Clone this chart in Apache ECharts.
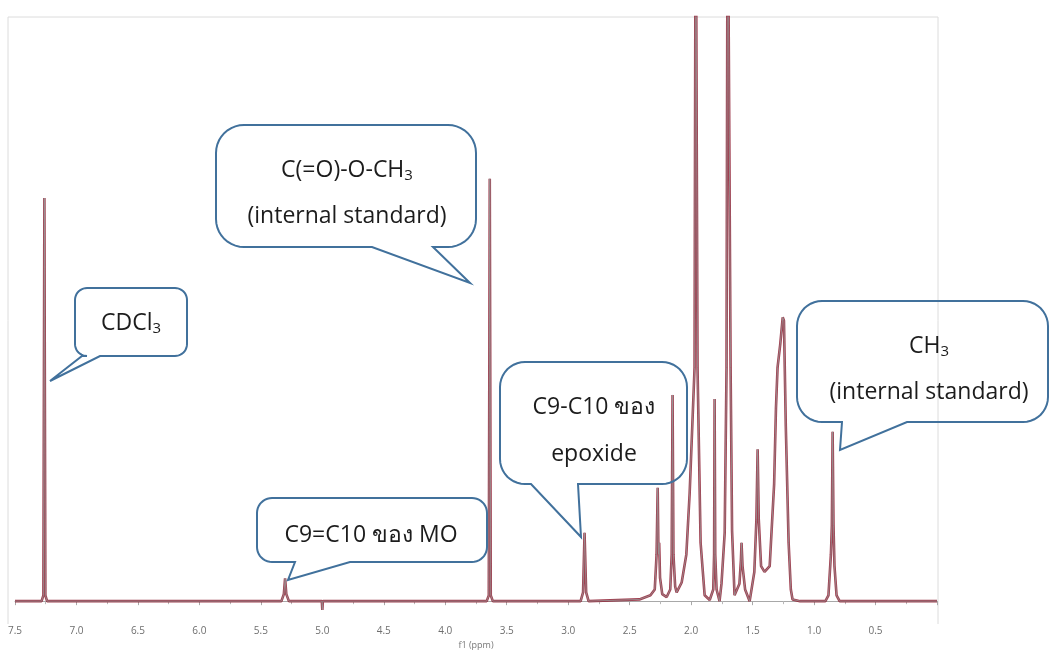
<!DOCTYPE html>
<html>
<head>
<meta charset="utf-8">
<script src="https://cdn.jsdelivr.net/npm/echarts@6/dist/echarts.min.js"></script>
<style>
  html, body { margin: 0; padding: 0; background: #ffffff; }
  #chart { width: 1051px; height: 655px; }
</style>
</head>
<body>
<div id="chart"></div>
<script>
// 1H NMR spectrum (CDCl3), chemical shift in ppm and relative intensity
const shiftPpm = [
  7.500, 7.284, 7.269, 7.261, 7.253, 7.239,
  5.333, 5.313, 5.303, 5.293, 5.272,
  5.004, 5.000, 4.996,
  3.663, 3.646, 3.638, 3.630, 3.613,
  2.899, 2.879, 2.867, 2.854, 2.834,
  2.421, 2.331, 2.296, 2.281, 2.272, 2.266, 2.260, 2.253, 2.235, 2.199,
  2.170, 2.158, 2.151, 2.144, 2.130, 2.118,
  2.077, 2.039, 2.012, 1.972, 1.963, 1.955, 1.948, 1.923, 1.890, 1.849,
  1.820, 1.813, 1.809, 1.804, 1.793, 1.769,
  1.753, 1.727, 1.712, 1.703, 1.689, 1.679, 1.667, 1.647,
  1.607, 1.595, 1.590, 1.582, 1.561, 1.524,
  1.486, 1.469, 1.459, 1.450, 1.431, 1.403,
  1.361, 1.325, 1.310, 1.297, 1.275, 1.255, 1.245, 1.230, 1.207, 1.189, 1.175, 1.114,
  0.908, 0.883, 0.863, 0.855, 0.849, 0.842, 0.834, 0.817, 0.792, 0.000
];
const intensity = [
  0, 0, 1.0, 69.0, 1.0, 0,
  0, 1.2, 3.9, 1.2, 0,
  0, -1.5, 0,
  0, 1.0, 72.3, 1.0, 0,
  0, 1.5, 11.7, 1.5, 0,
  0.3, 1.0, 2.0, 8.0, 19.4, 8.0, 10.0, 4.0, 1.2, 0.7,
  2.0, 8.0, 35.3, 8.0, 2.5, 1.5,
  3.2, 8.0, 18.5, 40, 130, 130, 40, 10, 1.0, 0.2,
  2.0, 8.0, 34.6, 8.0, 2.0, 0,
  3.0, 11.7, 40, 130, 130, 40, 12, 1.0,
  3.0, 7.0, 10.0, 6.0, 2.0, 0,
  5.0, 14, 26, 14, 6.0, 5.0,
  6.0, 20, 33, 40, 44, 48.6, 48.0, 30, 10, 2.0, 0.3, 0,
  0, 1.0, 8.0, 13, 29, 13, 6.0, 1.0, 0, 0
];

// Axis tick settings
const axisTicks = { min: 0, max: 7.5, step: 0.5 };
const axisTitle = 'f1 (ppm)';

// Peak annotations (speech-bubble callouts)
const calloutLines = [
  [['CDCl', '3']],
  [['C(=O)-O-CH', '3'], ['(internal standard)', '']],
  [['C9=C10 ของ MO', '']],
  [['C9-C10 ของ', ''], ['epoxide', '']],
  [['CH', '3'], ['(internal standard)', '']]
];

// Bubble geometry: box x, y, w, h, corner radius, tail base left/right, tail tip
const calloutShapes = [
  { x: 75,  y: 288, w: 112, h: 68,  r: 12, tl: 82,  tr: 100, tip: [50, 381],  text: [[131, 323]] },
  { x: 216, y: 125, w: 260, h: 122, r: 28, tl: 372, tr: 433, tip: [470, 283], text: [[347, 170], [347, 216]] },
  { x: 257, y: 498, w: 230, h: 64,  r: 15, tl: 295, tr: 350, tip: [288, 580], text: [[371, 535]] },
  { x: 500, y: 362, w: 187, h: 122, r: 25, tl: 531, tr: 578, tip: [581, 537], text: [[594, 407], [594, 454]] },
  { x: 797, y: 301, w: 251, h: 121, r: 25, tl: 842, tr: 907, tip: [840, 450], text: [[929, 346], [929, 392]] }
];

const FONT = "'Open Sans', 'Noto Sans', 'DejaVu Sans', sans-serif";

// outline of a rounded box with a pointed tail on its bottom edge
function bubbleOutline(s) {
  const { x, y, w, h, r, tl, tr, tip } = s;
  const pts = [];
  const corner = (cx, cy, a0) => {
    for (let k = 0; k <= 10; k++) {
      const a = a0 + (Math.PI / 2) * (k / 10);
      pts.push([cx + r * Math.cos(a), cy + r * Math.sin(a)]);
    }
  };
  corner(x + r, y + r, Math.PI);              // top-left
  corner(x + w - r, y + r, -Math.PI / 2);     // top-right
  corner(x + w - r, y + h - r, 0);            // bottom-right
  pts.push([tr, y + h], tip, [tl, y + h]);
  corner(x + r, y + h - r, Math.PI / 2);      // bottom-left
  return pts;
}

const graphics = [];
// light frame around the plotting region
graphics.push({
  type: 'polyline', silent: true, z: 0,
  shape: { points: [[8, 624], [8, 17], [938, 17], [938, 624]] },
  style: { stroke: '#dcdcdc', lineWidth: 1, fill: null }
});
calloutShapes.forEach((s, i) => {
  graphics.push({
    type: 'polygon', z: 10,
    shape: { points: bubbleOutline(s) },
    style: { fill: null, stroke: '#41719c', lineWidth: 2 }
  });
  calloutLines[i].forEach((ln, j) => {
    const txt = ln[1] ? '{m|' + ln[0] + '}{s|' + ln[1] + '}' : '{m|' + ln[0] + '}';
    graphics.push({
      type: 'text', z: 11,
      x: s.text[j][0], y: s.text[j][1],
      style: {
        text: txt, align: 'center', verticalAlign: 'middle',
        rich: {
          m: { fontFamily: FONT, fontSize: 23, fill: '#1c1c1c', lineHeight: 28 },
          s: { fontFamily: FONT, fontSize: 15, fill: '#1c1c1c', lineHeight: 28, padding: [12, 0, 0, 0] }
        }
      }
    });
  });
});

const points = shiftPpm.map((p, i) => [p, intensity[i]]);

const chart = echarts.init(document.getElementById('chart'), null, { renderer: 'canvas' });
chart.setOption({
  animation: false,
  backgroundColor: '#ffffff',
  grid: { left: 15, right: 114, top: 17, bottom: 31, containLabel: false },
  xAxis: {
    type: 'value', inverse: true,
    min: axisTicks.min, max: axisTicks.max, interval: axisTicks.step,
    name: axisTitle, nameLocation: 'middle', nameGap: 22,
    nameTextStyle: { color: '#777', fontSize: 9, fontFamily: FONT },
    axisLine: { show: true, lineStyle: { color: '#a8a8a8', width: 1 } },
    axisTick: { show: true, length: 4, lineStyle: { color: '#a8a8a8' } },
    minorTick: { show: true, splitNumber: 2, length: 3, lineStyle: { color: '#b8b8b8' } },
    splitLine: { show: false },
    axisLabel: {
      color: '#6e6e6e', fontSize: 10, fontFamily: FONT, margin: 8,
      formatter: v => (v === 0 ? '' : v.toFixed(1))
    }
  },
  yAxis: { type: 'value', min: -2.9, max: 100, show: false, splitLine: { show: false } },
  series: [
    {
      type: 'line', data: points, showSymbol: false, smooth: false, z: 2,
      lineStyle: { color: '#8f1f33', width: 2.6, opacity: 0.85 }
    },
    {
      type: 'line', data: points, showSymbol: false, smooth: false, z: 3,
      lineStyle: { color: '#9a9a9a', width: 1.0, opacity: 0.75 }
    }
  ],
  graphic: graphics
});
</script>
</body>
</html>
